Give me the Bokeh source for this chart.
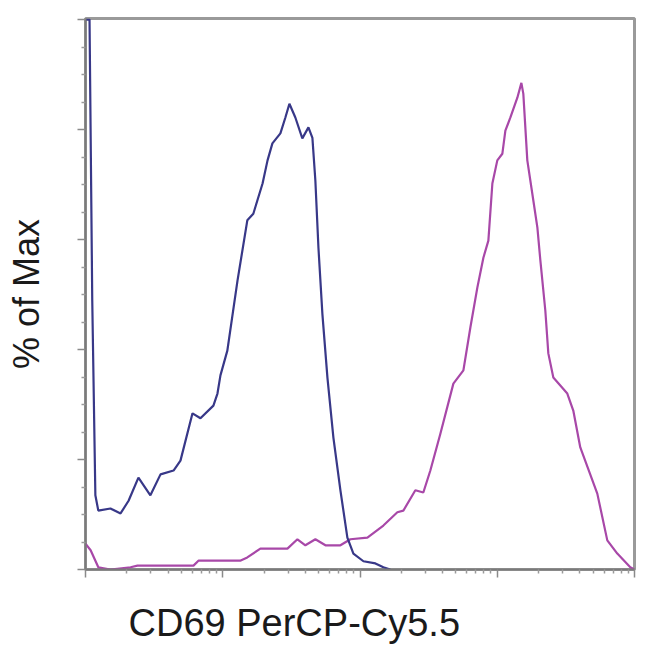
from bokeh.plotting import figure
from bokeh.models import FixedTicker, Title, Range1d
from bokeh.embed import file_html
from bokeh.resources import INLINE

# Unstained / control (blue) histogram: fluorescence intensity vs % of max
blue_x = [10, 10.7, 11.2, 11.8, 12.4, 15.2, 18.0, 20.6, 24.3, 29.7, 35.2, 43.8, 49.2,
          60.2, 68.8, 85.5, 91.5, 96.2, 108, 128, 151, 167, 195, 212, 230, 263, 286,
          306, 338, 380, 421, 450, 473, 498, 532, 579, 640, 720, 809, 895, 1059, 1295,
          1480, 1663]
blue_y = [100, 100, 48.9, 13.5, 10.7, 11.1, 10.2, 12.5, 16.7, 13.5, 17.3, 18.0, 19.8,
          28.4, 27.5, 29.8, 32.0, 35.3, 39.8, 52.5, 63.5, 64.7, 70.2, 74.4, 77.5, 79.3,
          82.2, 84.7, 82.2, 78.4, 80.4, 78.5, 70.7, 58.5, 46.5, 34.9, 24.0, 14.4, 5.8,
          2.9, 1.5, 1.1, 0.4, 0]

# Stimulated (magenta) histogram
mag_x = [10, 10.9, 12.4, 15.2, 21.3, 23.9, 61.2, 66.5, 134, 151, 188, 296, 350, 400,
         473, 560, 720, 851, 1132, 1480, 1871, 2069, 2531, 2894, 3255, 3851, 4790,
         5667, 6370, 7166, 7925, 8616, 9213, 10010, 10890, 11460, 12470, 14010, 14990,
         15490, 16560, 18320, 19600, 20610, 22400, 23560, 25620, 32390, 35810, 40280,
         53580, 63360, 74950, 93170, 100000]
mag_y = [4.7, 3.5, 0.4, 0, 0.4, 0.7, 0.7, 1.6, 1.6, 2.2, 3.8, 3.8, 5.5, 4.4, 5.5, 4.4,
         4.4, 5.5, 5.8, 8.0, 10.4, 10.7, 14.4, 14.0, 18.0, 24.7, 33.8, 36.2, 44.0, 51.3,
         56.7, 59.8, 70.2, 74.4, 75.6, 79.8, 82.2, 85.8, 88.5, 86.5, 74.4, 67.1, 62.2,
         56.2, 47.1, 39.3, 34.9, 32.0, 28.9, 22.2, 13.8, 5.3, 2.9, 0.4, 0]

x_major = [10, 100, 1000, 10000, 100000]
x_minor = [k * 10 ** d for d in range(1, 5) for k in range(2, 10)]
y_major = [0, 20, 40, 60, 80, 100]
y_minor = [v for v in range(5, 100, 5) if v % 20]

x_label = "CD69 PerCP-Cy5.5"
y_label = "% of Max"

p = figure(width=650, height=666, x_axis_type="log",
           x_range=Range1d(10, 100000), y_range=Range1d(0, 100.2),
           output_backend="svg", toolbar_location=None,
           min_border_left=85, min_border_right=16, min_border_top=18,
           min_border_bottom=97)

p.grid.visible = False
p.outline_line_color = "#9a9a9a"
p.outline_line_width = 3

p.xaxis.ticker = FixedTicker(ticks=x_major, minor_ticks=x_minor)
p.yaxis.ticker = FixedTicker(ticks=y_major, minor_ticks=y_minor)
for ax in (p.xaxis[0], p.yaxis[0]):
    ax.major_label_text_font_size = "1px"
    ax.major_label_text_color = None
    ax.major_label_standoff = 0
    ax.major_tick_out = 8
    ax.major_tick_in = 0
    ax.minor_tick_out = 4
    ax.minor_tick_in = 0
    ax.axis_line_color = "#7a7a7a"
    ax.axis_line_width = 2
    ax.major_tick_line_color = "#8a8a8a"
    ax.minor_tick_line_color = "#9a9a9a"
    ax.major_tick_line_width = 1.5
    ax.minor_tick_line_width = 1.5

p.yaxis.axis_label = y_label
p.yaxis.axis_label_text_font = "Liberation Sans"
p.yaxis.axis_label_text_font_size = "36px"
p.yaxis.axis_label_text_font_style = "normal"
p.yaxis.axis_label_text_color = "#1a1a1a"
p.yaxis.axis_label_standoff = 31

p.add_layout(Title(text=x_label, align="left", offset=43,
                   text_font="Liberation Sans", text_font_size="38px",
                   text_font_style="normal", text_color="#1a1a1a",
                   standoff=45), "below")

p.line(mag_x, mag_y, line_color="#a848a8", line_width=2.2)
p.line(blue_x, blue_y, line_color="#383888", line_width=2.2)

open("out.html", "w").write(file_html(p, INLINE))
